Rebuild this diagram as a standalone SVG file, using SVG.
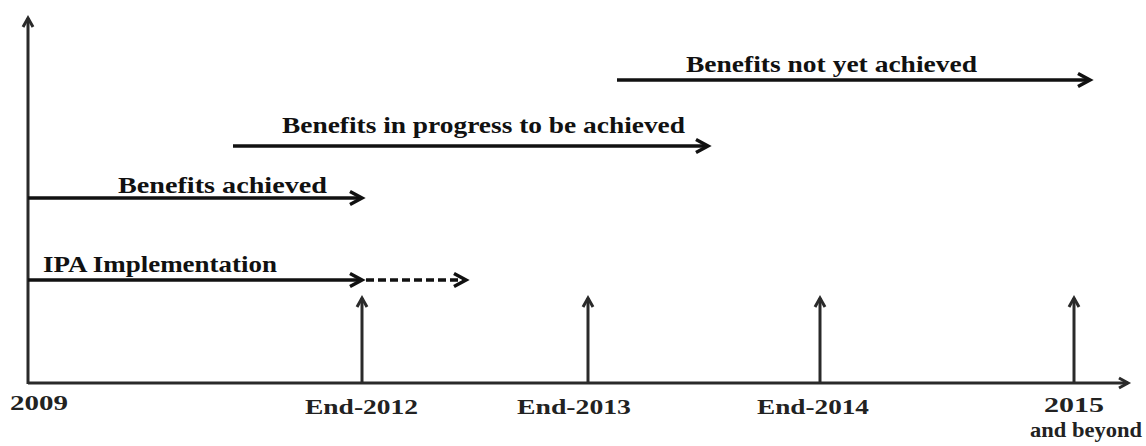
<svg xmlns="http://www.w3.org/2000/svg" width="1146" height="446" viewBox="0 0 1146 446">
<style>
.ln{stroke:#111;stroke-width:3.5;fill:none}
.ax{stroke:#2a2a2a;stroke-width:3;fill:none}
.dash{stroke:#111;stroke-width:3.5;fill:none;stroke-dasharray:8 4}
.lbl{font-family:"Liberation Serif","Times New Roman",serif;font-weight:bold;font-size:24px;fill:#111}
.yr{font-family:"Liberation Serif","Times New Roman",serif;font-weight:bold;font-size:22px;fill:#222}
</style>
<defs>
<marker id="big" markerUnits="userSpaceOnUse" markerWidth="20" markerHeight="20" refX="15" refY="8" orient="auto" overflow="visible">
<path d="M3,1.5 L15,8 L3,14.5" fill="none" stroke="#111" stroke-width="3.5"/>
</marker>
<marker id="sm" markerUnits="userSpaceOnUse" markerWidth="16" markerHeight="16" refX="10" refY="6" orient="auto" overflow="visible">
<path d="M1,1 L10,6 L1,11" fill="none" stroke="#2a2a2a" stroke-width="3"/>
</marker>
</defs>
<g id="connectors">
<line class="ax" x1="28" y1="384" x2="28" y2="18" marker-end="url(#sm)"/>
<line class="ax" x1="28" y1="383" x2="1128" y2="383" marker-end="url(#sm)"/>
<line class="ax" x1="362" y1="383" x2="362" y2="298" marker-end="url(#sm)"/>
<line class="ax" x1="588" y1="383" x2="588" y2="298" marker-end="url(#sm)"/>
<line class="ax" x1="820" y1="383" x2="820" y2="298" marker-end="url(#sm)"/>
<line class="ax" x1="1074" y1="383" x2="1074" y2="298" marker-end="url(#sm)"/>
<line class="ln" x1="617" y1="80" x2="1090" y2="80" marker-end="url(#big)"/>
<line class="ln" x1="233" y1="146" x2="708" y2="146" marker-end="url(#big)"/>
<line class="ln" x1="28" y1="198" x2="362" y2="198" marker-end="url(#big)"/>
<line class="ln" x1="28" y1="280" x2="362" y2="280" marker-end="url(#big)"/>
<line class="dash" x1="366" y1="280" x2="466" y2="280" marker-end="url(#big)"/>
</g>
<g id="label-not-yet"><text class="lbl" x="686" y="72" textLength="291" lengthAdjust="spacingAndGlyphs">Benefits not yet achieved</text></g>
<g id="label-in-progress"><text class="lbl" x="282" y="133" textLength="403" lengthAdjust="spacingAndGlyphs">Benefits in progress to be achieved</text></g>
<g id="label-achieved"><text class="lbl" x="118" y="193" textLength="209" lengthAdjust="spacingAndGlyphs">Benefits achieved</text></g>
<g id="label-ipa"><text class="lbl" x="43" y="272" textLength="234" lengthAdjust="spacingAndGlyphs">IPA Implementation</text></g>
<g id="year-2009"><text class="yr" x="10" y="410" textLength="58" lengthAdjust="spacingAndGlyphs">2009</text></g>
<g id="year-2012"><text class="yr" x="305" y="414" textLength="113" lengthAdjust="spacingAndGlyphs">End-2012</text></g>
<g id="year-2013"><text class="yr" x="517" y="414" textLength="114" lengthAdjust="spacingAndGlyphs">End-2013</text></g>
<g id="year-2014"><text class="yr" x="757" y="414" textLength="112" lengthAdjust="spacingAndGlyphs">End-2014</text></g>
<g id="year-2015"><text class="yr" x="1044" y="412" textLength="60" lengthAdjust="spacingAndGlyphs">2015</text><text class="yr" x="1030" y="437" textLength="112" lengthAdjust="spacingAndGlyphs">and beyond</text></g>
</svg>
